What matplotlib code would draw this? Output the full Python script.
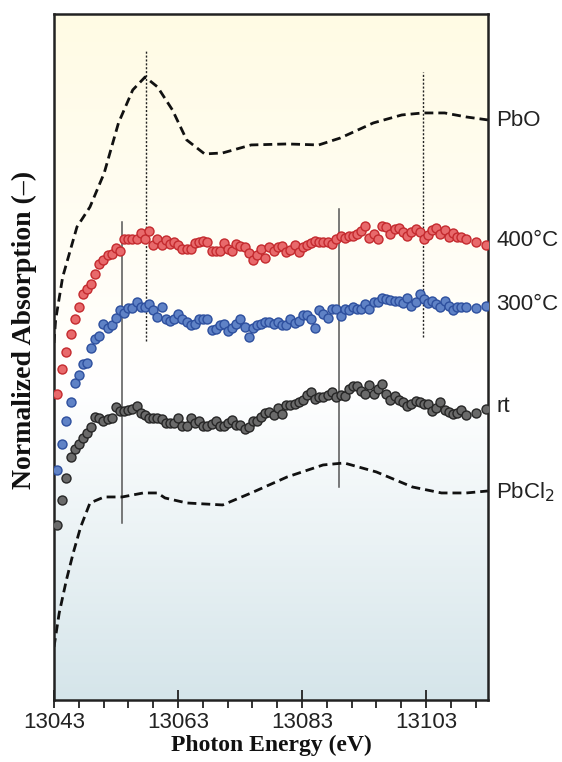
import numpy as np
import matplotlib
matplotlib.use("Agg")
import matplotlib.pyplot as plt
from matplotlib.colors import LinearSegmentedColormap
from matplotlib.ticker import MultipleLocator, FixedLocator

# reference spectra (dashed lines)
pbo_e = [13043.0, 13043.26, 13044.4, 13046.7, 13048.8, 13051.1, 13053.4, 13055.7,
         13057.7, 13059.7, 13062.1, 13064.4, 13067.3, 13070.2, 13074.8, 13080.6,
         13085.7, 13089.2, 13094.5, 13099.1, 13102.5, 13106.0, 13109.5, 13113.0]
pbo_mu = [3.57, 3.80, 4.23, 4.73, 4.93, 5.27, 5.77, 6.10,
          6.23, 6.13, 5.90, 5.60, 5.46, 5.47, 5.55, 5.56,
          5.55, 5.62, 5.77, 5.85, 5.87, 5.87, 5.83, 5.80]

pbcl2_e = [13043.0, 13043.84, 13045.0, 13046.1, 13047.3, 13048.8, 13051.1, 13054.0,
           13057.4, 13059.7, 13060.9, 13064.4, 13070.2, 13074.8, 13080.6, 13086.4,
           13089.8, 13095.0, 13100.8, 13105.5, 13109.5, 13113.0]
pbcl2_mu = [0.53, 0.87, 1.20, 1.47, 1.73, 1.97, 2.03, 2.03,
            2.07, 2.07, 2.02, 1.97, 1.95, 2.07, 2.23, 2.35,
            2.37, 2.28, 2.13, 2.07, 2.07, 2.09]

# measured spectra (dots), common energy grid
energy = [13043.53, 13044.34, 13044.98, 13045.69, 13046.34, 13047.03, 13047.68, 13048.32,
          13048.97, 13049.66, 13050.31, 13050.95, 13051.66, 13052.35, 13053.00, 13053.65,
          13054.29, 13054.98, 13055.63, 13056.34, 13056.98, 13057.68, 13058.37, 13059.02,
          13059.66, 13060.37, 13061.02, 13061.71, 13062.35, 13063.00, 13063.69, 13064.40,
          13065.05, 13065.69, 13066.39, 13067.08, 13067.73, 13068.44, 13069.08, 13069.73,
          13070.37, 13071.06, 13071.76, 13072.40, 13073.05, 13073.76, 13074.40, 13075.05,
          13075.74, 13076.44, 13077.03, 13077.73, 13078.44, 13079.13, 13079.77, 13080.42,
          13081.11, 13081.82, 13082.47, 13083.16, 13083.81, 13084.45, 13085.10, 13085.79,
          13086.44, 13087.15, 13087.89, 13088.53, 13089.24, 13089.89, 13090.58, 13091.23,
          13091.87, 13092.56, 13093.21, 13093.85, 13094.56, 13095.21, 13095.85, 13096.55,
          13097.24, 13097.95, 13098.65, 13099.29, 13099.94, 13100.63, 13101.34, 13101.98,
          13102.63, 13103.32, 13103.97, 13104.66, 13105.31, 13106.02, 13106.66, 13107.35,
          13108.00, 13108.65, 13109.50, 13111.11, 13112.68]

mu_400 = [3.06, 3.31, 3.48, 3.66, 3.81, 3.93, 4.06, 4.11, 4.16, 4.26,
          4.36, 4.40, 4.45, 4.46, 4.52, 4.49, 4.61, 4.61, 4.61, 4.61,
          4.67, 4.61, 4.69, 4.55, 4.61, 4.55, 4.60, 4.56, 4.58, 4.55,
          4.51, 4.51, 4.51, 4.57, 4.58, 4.59, 4.58, 4.49, 4.49, 4.49,
          4.57, 4.51, 4.49, 4.56, 4.54, 4.53, 4.47, 4.40, 4.45, 4.51,
          4.42, 4.53, 4.49, 4.53, 4.54, 4.48, 4.50, 4.55, 4.48, 4.53,
          4.55, 4.57, 4.59, 4.58, 4.58, 4.58, 4.56, 4.61, 4.64, 4.62,
          4.64, 4.64, 4.66, 4.69, 4.74, 4.62, 4.66, 4.61, 4.74, 4.73,
          4.66, 4.71, 4.72, 4.68, 4.64, 4.68, 4.71, 4.68, 4.61, 4.65,
          4.70, 4.72, 4.66, 4.70, 4.63, 4.67, 4.63, 4.63, 4.61, 4.58,
          4.55]

mu_300 = [2.30, 2.56, 2.79, 2.98, 3.17, 3.25, 3.36, 3.37, 3.52, 3.61,
          3.64, 3.76, 3.72, 3.75, 3.82, 3.90, 3.87, 3.92, 3.92, 3.98,
          3.93, 3.93, 3.96, 3.90, 3.83, 3.93, 3.81, 3.79, 3.81, 3.86,
          3.81, 3.78, 3.75, 3.76, 3.81, 3.81, 3.81, 3.70, 3.71, 3.75,
          3.76, 3.69, 3.72, 3.76, 3.81, 3.73, 3.63, 3.72, 3.75, 3.76,
          3.78, 3.78, 3.76, 3.78, 3.75, 3.75, 3.81, 3.77, 3.79, 3.85,
          3.85, 3.81, 3.72, 3.90, 3.86, 3.82, 3.91, 3.91, 3.84, 3.91,
          3.90, 3.93, 3.91, 3.91, 3.96, 3.91, 3.98, 3.98, 4.02, 4.01,
          4.00, 3.99, 3.99, 3.97, 4.02, 3.94, 3.98, 4.06, 4.01, 3.97,
          3.99, 3.96, 3.93, 3.99, 3.94, 3.90, 3.93, 3.93, 3.93, 3.92,
          3.94]

mu_rt = [1.75, 2.00, 2.22, 2.43, 2.51, 2.56, 2.62, 2.67, 2.73, 2.83,
         2.82, 2.79, 2.81, 2.82, 2.93, 2.89, 2.89, 2.90, 2.91, 2.94,
         2.87, 2.85, 2.82, 2.82, 2.82, 2.81, 2.77, 2.77, 2.77, 2.82,
         2.74, 2.74, 2.82, 2.77, 2.79, 2.74, 2.74, 2.76, 2.79, 2.74,
         2.74, 2.77, 2.80, 2.75, 2.75, 2.71, 2.73, 2.79, 2.79, 2.83,
         2.87, 2.88, 2.85, 2.92, 2.86, 2.95, 2.95, 2.96, 2.98, 3.00,
         3.05, 3.08, 3.01, 3.03, 3.03, 3.05, 3.08, 3.03, 3.05, 3.04,
         3.11, 3.14, 3.14, 3.09, 3.06, 3.15, 3.06, 3.11, 3.16, 3.06,
         3.00, 3.04, 3.00, 2.98, 2.94, 2.96, 2.99, 2.98, 2.96, 2.96,
         2.89, 2.92, 2.98, 2.90, 2.88, 2.86, 2.87, 2.90, 2.85, 2.87,
         2.91]

# guide lines: energy, bottom, top
solid_lines = [(13054.0, 1.77, 4.78), (13089.0, 2.13, 4.91)]
dotted_lines = [(13057.84, 3.59, 6.49), (13102.55, 3.63, 6.28)]

labels = ["PbO", "400°C", "300°C", "rt", "PbCl$_2$"]
label_y = [5.79, 4.59, 3.95, 2.93, 2.08]

xmin, xmax = 13043, 13113
ymin, ymax = 0, 6.86

fig = plt.figure(figsize=(5.62, 7.62), dpi=100)
ax = fig.add_axes([0.0961, 0.0814, 0.7722, 0.9003])

# background gradient: pale yellow at top, white middle, pale blue bottom
cmap = LinearSegmentedColormap.from_list(
    "bg", [(0.0, "#d5e5ea"), (0.45, "#ffffff"), (1.0, "#fffbe4")])
grad = np.linspace(0, 1, 256).reshape(-1, 1)
ax.imshow(grad, cmap=cmap, aspect="auto", origin="lower",
          extent=[xmin, xmax, ymin, ymax], zorder=0)

for e, lo, hi in solid_lines:
    ax.plot([e, e], [lo, hi], color="#555555", lw=1.1, zorder=1)
for e, lo, hi in dotted_lines:
    ax.plot([e, e], [lo, hi], color="#222222", lw=1.0, ls=(0, (1.5, 1.3)), zorder=1)

dash = (0, (3.2, 1.8))
ax.plot(pbo_e, pbo_mu, color="#111111", lw=2.0, ls=dash, zorder=2)
ax.plot(pbcl2_e, pbcl2_mu, color="#111111", lw=2.0, ls=dash, zorder=2)

ax.scatter(energy, mu_400, s=42, facecolor="#e8696b", edgecolor="#c42a2e", lw=1.0, zorder=3)
ax.scatter(energy, mu_300, s=42, facecolor="#5f82c6", edgecolor="#2d4f9e", lw=1.0, zorder=3)
ax.scatter(energy, mu_rt, s=42, facecolor="#6a6a6a", edgecolor="#262626", lw=1.0, zorder=3)

for txt, y in zip(labels, label_y):
    ax.annotate(txt, xy=(1, y), xycoords=("axes fraction", "data"),
                xytext=(6, 0), textcoords="offset points", va="center", ha="left",
                fontsize=16, family="Liberation Sans", color="#222222",
                annotation_clip=False)

ax.set_xlim(xmin, xmax)
ax.set_ylim(ymin, ymax)
ax.set_yticks([])

ax.xaxis.set_major_locator(FixedLocator([13043, 13063, 13083, 13103]))
ax.xaxis.set_minor_locator(MultipleLocator(4, offset=3))
ax.xaxis.remove_overlapping_locs = False
ax.tick_params(axis="x", which="major", direction="in", length=7, width=1.3,
               labelsize=16, pad=9, color="#222222", labelcolor="#222222")
ax.tick_params(axis="x", which="minor", direction="out", length=6, width=1.3,
               color="#222222")
for lab in ax.get_xticklabels():
    lab.set_family("Liberation Sans")

for sp in ax.spines.values():
    sp.set_linewidth(1.8)
    sp.set_color("#222222")

ax.set_xlabel("Photon Energy (eV)", family="Liberation Serif", fontweight="bold",
              fontsize=17, labelpad=1, color="#111111")
ax.set_ylabel("Normalized Absorption (–)", family="Liberation Serif", fontweight="bold",
              fontsize=20, color="#111111")
ax.yaxis.set_label_coords(-0.04, 0.54)

fig.savefig("out.png", dpi=100)
